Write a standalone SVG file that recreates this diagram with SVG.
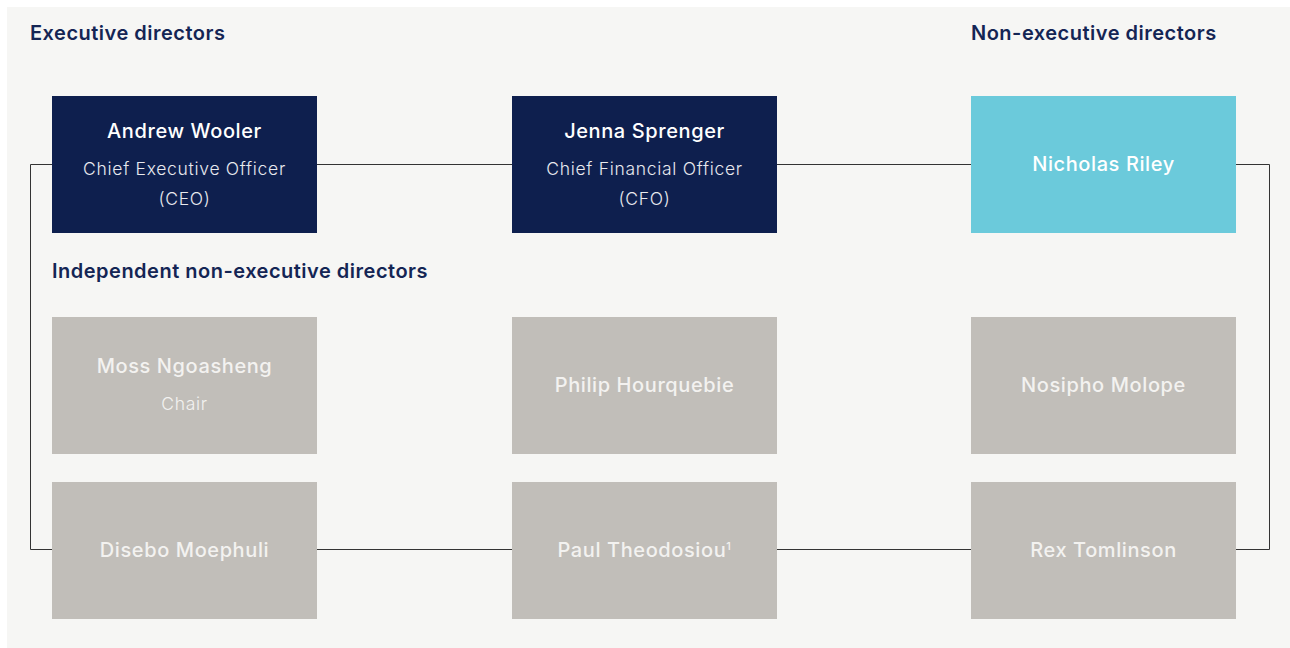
<svg xmlns="http://www.w3.org/2000/svg" width="1290" height="648" viewBox="0 0 1290 648">
<style>
.h{font-family:Inter,"Liberation Sans",sans-serif;font-size:20px;font-weight:600;letter-spacing:0.5px;fill:#142554}
.n{font-family:Inter,"Liberation Sans",sans-serif;font-size:20px;font-weight:500;letter-spacing:0.6px;fill:#ffffff;text-anchor:middle}
.s{font-family:Inter,"Liberation Sans",sans-serif;font-size:17.5px;font-weight:300;letter-spacing:0.7px;fill:#e8e9ee;text-anchor:middle}
.g .n{fill:#f3f2f0}
.g .s{fill:#f3f2f0}
.navy{fill:#0e1f4e}
.cyan{fill:#6bcadb}
.grey{fill:#c1beb9}
.c{fill:none;stroke:#333333;stroke-width:1}
</style>
<rect x="7" y="7" width="1283" height="641" fill="#f6f6f4"/>
<g id="connectors">
<path class="c" d="M30.5,164.5 H1269.5 V549.5 H30.5 Z"/>
</g>
<text class="h" x="30" y="40">Executive directors</text>
<text class="h" x="971" y="40">Non-executive directors</text>
<text class="h" x="52" y="278">Independent non-executive directors</text>
<g id="ceo">
<rect class="navy" x="52" y="96" width="265" height="137"/>
<text class="n" x="184.5" y="138">Andrew Wooler</text>
<text class="s" x="184.5" y="175">Chief Executive Officer</text>
<text class="s" x="184.5" y="205">(CEO)</text>
</g>
<g id="cfo">
<rect class="navy" x="512" y="96" width="265" height="137"/>
<text class="n" x="644.5" y="138">Jenna Sprenger</text>
<text class="s" x="644.5" y="175">Chief Financial Officer</text>
<text class="s" x="644.5" y="205">(CFO)</text>
</g>
<g id="riley">
<rect class="cyan" x="971" y="96" width="265" height="137"/>
<text class="n" x="1103.5" y="171">Nicholas Riley</text>
</g>
<g id="ngoasheng" class="g">
<rect class="grey" x="52" y="317" width="265" height="137"/>
<text class="n" x="184.5" y="373">Moss Ngoasheng</text>
<text class="s" x="184.5" y="410">Chair</text>
</g>
<g id="hourquebie" class="g">
<rect class="grey" x="512" y="317" width="265" height="137"/>
<text class="n" x="644.5" y="392">Philip Hourquebie</text>
</g>
<g id="molope" class="g">
<rect class="grey" x="971" y="317" width="265" height="137"/>
<text class="n" x="1103.5" y="392">Nosipho Molope</text>
</g>
<g id="moephuli" class="g">
<rect class="grey" x="52" y="482" width="265" height="137"/>
<text class="n" x="184.5" y="557">Disebo Moephuli</text>
</g>
<g id="theodosiou" class="g">
<rect class="grey" x="512" y="482" width="265" height="137"/>
<text class="n" x="644.5" y="557">Paul Theodosiou<tspan font-size="11" dy="-7">1</tspan></text>
</g>
<g id="tomlinson" class="g">
<rect class="grey" x="971" y="482" width="265" height="137"/>
<text class="n" x="1103.5" y="557">Rex Tomlinson</text>
</g>
</svg>
